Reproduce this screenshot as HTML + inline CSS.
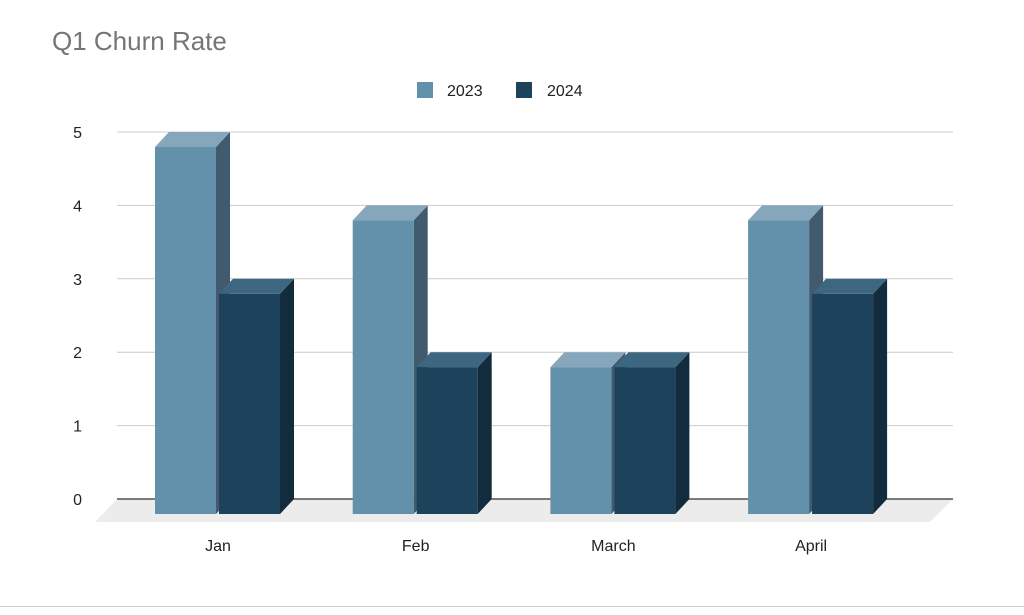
<!DOCTYPE html>
<html><head><meta charset="utf-8"><style>
body{margin:0;background:#fff;width:1024px;height:610px;overflow:hidden;font-family:"Liberation Sans",Arial,sans-serif}
</style></head><body>
<svg width="1024" height="610">
<text x="52" y="50" font-size="26" fill="#757575">Q1 Churn Rate</text>
<g>
<rect x="417" y="82" width="16" height="16" fill="#6390ab"/>
<text x="447" y="96" font-size="16" fill="#222">2023</text>
<rect x="516" y="82" width="16" height="16" fill="#1c425c"/>
<text x="547" y="96" font-size="16" fill="#222">2024</text>
</g>
<polygon points="117,499 953,499 930,522 95,522" fill="#ececec"/>
<g id="grid"></g>
<g id="bars"></g>
<g id="xlabels"></g>
<line x1="0" y1="606.5" x2="1024" y2="606.5" stroke="#cfcfcf"/>
</svg>
<script>
const categories=["Jan","Feb","March","April"];
const s2023=[5,4,2,4];
const s2024=[3,2,2,3];
const yTicks=[0,1,2,3,4,5];
const NS="http://www.w3.org/2000/svg";
const y0=499,yTop=132,yMax=5;
function yScale(v){return y0-(v/yMax)*(y0-yTop);}
function xCat(i){return 218+i*197.7;}
const DX=14,DY=15,BW=61;
function mk(t,a,p){const e=document.createElementNS(NS,t);for(const k in a)e.setAttribute(k,a[k]);p.appendChild(e);return e;}
const grid=document.getElementById('grid');
yTicks.forEach(v=>{
 const y=yScale(v);
 const l=mk('line',{x1:117,x2:953,y1:y,y2:y,stroke:v===0?'#333':'#cccccc','stroke-width':v===0?1.3:1},grid);
 
 
 const t=mk('text',{x:82,y:y+6,'font-size':16,fill:'#222','text-anchor':'end'},grid);
 t.textContent=v;
 
 
});
const bars=document.getElementById('bars');
const cols=[{f:'#6390ab',t:'#86a6bb',s:'#415a6e'},{f:'#1c425c',t:'#3d6780',s:'#122b3d'}];
function bar(x,v,c,name){
 const g=mk('g',{},bars);
 
 
 const yb=yScale(v)+DY,bot=y0+DY;
 mk('polygon',{points:`${x+BW},${yb} ${x+BW+DX},${yb-DY} ${x+BW+DX},${bot-DY} ${x+BW},${bot}`,fill:c.s},g);
 mk('polygon',{points:`${x},${yb} ${x+DX},${yb-DY} ${x+BW+DX},${yb-DY} ${x+BW},${yb}`,fill:c.t},g);
 mk('rect',{x:x,y:yb,width:BW,height:bot-yb,fill:c.f},g);
}
const xl=document.getElementById('xlabels');
categories.forEach((c,i)=>{
 const cx=xCat(i);
 bar(cx-63,s2023[i],cols[0],'bar-2023-'+c.toLowerCase());
 bar(cx+1,s2024[i],cols[1],'bar-2024-'+c.toLowerCase());
 const t=mk('text',{x:cx,y:551,'font-size':16,fill:'#222','text-anchor':'middle'},xl);
 t.textContent=c;
 
 
});
</script>
</body></html>
